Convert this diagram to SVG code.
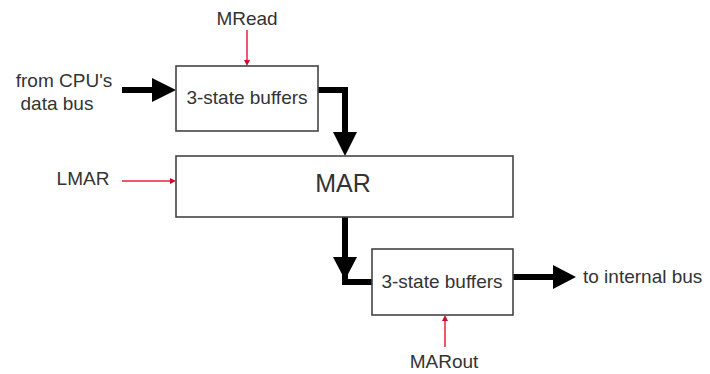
<svg xmlns="http://www.w3.org/2000/svg" width="710" height="374" viewBox="0 0 710 374">
<style>
text{font-family:"Liberation Sans",Arial,sans-serif;font-size:19px;fill:#333}
.box{fill:#fff;stroke:#444;stroke-width:1.6}
.bus{fill:none;stroke:#000;stroke-width:6}
.head{fill:#000}
.ctl{stroke:#e8203a;stroke-width:1.5;fill:none}
.chead{fill:#c8102e}
</style>
<rect width="710" height="374" fill="#fff"/>
<g id="connectors">
<line class="bus" x1="122" y1="90" x2="154" y2="90"/>
<polygon class="head" points="152,78 176,90 152,102"/>
<polyline class="bus" points="318,90 345,90 345,134"/>
<polygon class="head" points="333,132 357,132 345,156"/>
<polyline class="bus" points="345,217 345,282 372,282"/>
<polygon class="head" points="333,257 357,257 345,280"/>
<line class="bus" x1="513" y1="277" x2="555" y2="277"/>
<polygon class="head" points="553,265 576,277 553,289"/>
<line class="ctl" x1="247" y1="30" x2="247" y2="61"/>
<polygon class="chead" points="244,60 250,60 247,66"/>
<line class="ctl" x1="122" y1="181" x2="171" y2="181"/>
<polygon class="chead" points="170,178 176,181 170,184"/>
<line class="ctl" x1="445" y1="347" x2="445" y2="320"/>
<polygon class="chead" points="442,321 448,321 445,315"/>
</g>
<g id="buf_in">
<rect class="box" x="176" y="66" width="142" height="65"/>
<text x="247" y="104" text-anchor="middle">3-state buffers</text>
</g>
<g id="mar">
<rect class="box" x="176" y="156" width="337" height="61"/>
<text x="343" y="192" text-anchor="middle" style="font-size:25px">MAR</text>
</g>
<g id="buf_out">
<rect class="box" x="372" y="249" width="141" height="66"/>
<text x="442" y="288" text-anchor="middle">3-state buffers</text>
</g>
<g id="labels">
<text x="247" y="25" text-anchor="middle">MRead</text>
<text x="64" y="87" text-anchor="middle">from CPU's</text>
<text x="57" y="110" text-anchor="middle">data bus</text>
<text x="83" y="185" text-anchor="middle">LMAR</text>
<text x="583" y="283">to internal bus</text>
<text x="444" y="368" text-anchor="middle">MARout</text>
</g>
</svg>
